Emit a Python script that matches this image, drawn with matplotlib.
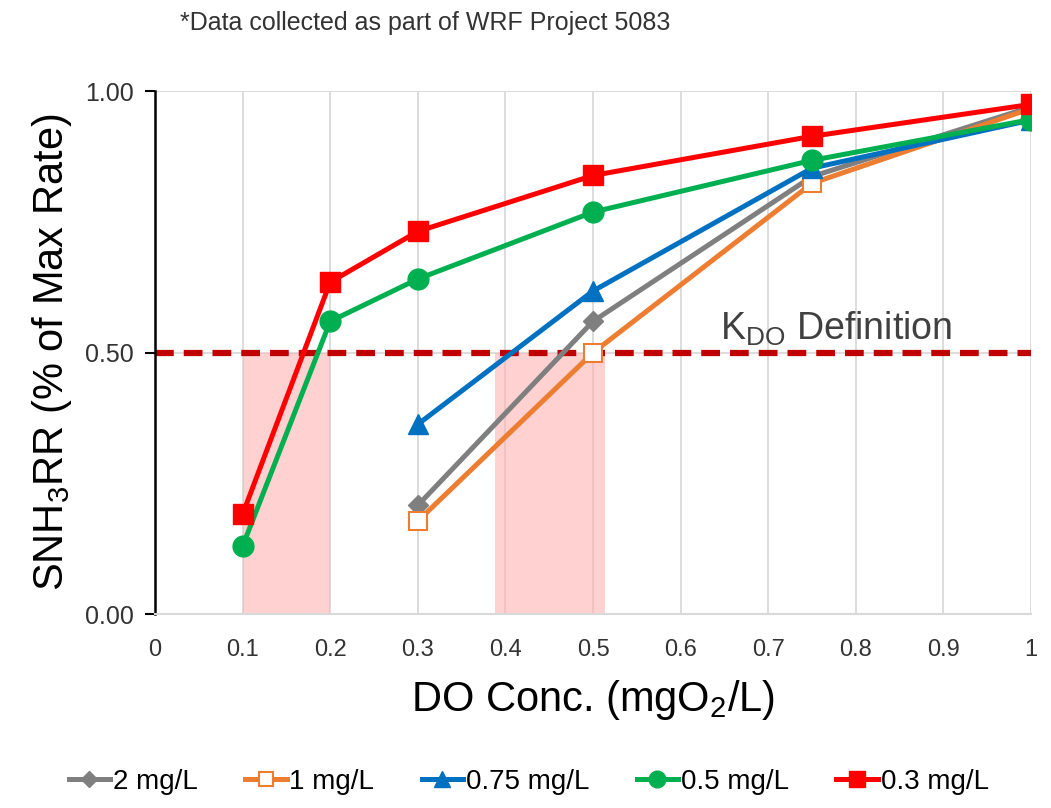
import numpy as np
import matplotlib.pyplot as plt

# DO concentration (mgO2/L)
do_red_green = [0.1, 0.2, 0.3, 0.5, 0.75, 1.0]
do_others = [0.3, 0.5, 0.75, 1.0]

# SNH3RR as fraction of max rate
rate_2 = [0.208, 0.56, 0.837, 0.970]
rate_1 = [0.178, 0.50, 0.824, 0.967]
rate_075 = [0.363, 0.618, 0.853, 0.945]
rate_05 = [0.13, 0.56, 0.641, 0.769, 0.868, 0.946]
rate_03 = [0.191, 0.635, 0.732, 0.839, 0.914, 0.975]

kdo_level = 0.5
kdo_bands = [(0.1, 0.2), (0.388, 0.514)]

plt.rcParams['font.family'] = ['Liberation Sans', 'DejaVu Sans']
plt.rcParams['mathtext.fontset'] = 'custom'
plt.rcParams['mathtext.rm'] = 'Liberation Sans'

fig = plt.figure(figsize=(10.51, 8.08), dpi=100)
ax = fig.add_axes([0.1475, 0.240, 0.8335, 0.647])

for lo, hi in kdo_bands:
    ax.axvspan(lo, hi, ymin=0, ymax=kdo_level, color='#FFB3B3', alpha=0.6, lw=0, zorder=1)

ax.axhline(kdo_level, color='#C00000', lw=4.5, ls=(0, (3, 1.6)), zorder=2)

lw = 3.6
ax.plot(do_others, rate_2, color='#7F7F7F', lw=lw, marker='D', ms=10, label='2 mg/L', zorder=3)
ax.plot(do_others, rate_1, color='#ED7D31', lw=lw, marker='s', ms=13, mfc='white', mew=1.5,
        label='1 mg/L', zorder=4)
ax.plot(do_others, rate_075, color='#0070C0', lw=lw, marker='^', ms=15, label='0.75 mg/L', zorder=5)
ax.plot(do_red_green, rate_05, color='#00B050', lw=lw, marker='o', ms=15, label='0.5 mg/L', zorder=6)
ax.plot(do_red_green, rate_03, color='#FF0000', lw=lw, marker='s', ms=14, label='0.3 mg/L', zorder=7)

ax.set_xlim(0, 1)
ax.set_ylim(0, 1)
ax.set_xticks(np.arange(0, 1.01, 0.1))
ax.set_xticklabels(['0', '0.1', '0.2', '0.3', '0.4', '0.5', '0.6', '0.7', '0.8', '0.9', '1'])
ax.set_yticks([0, 0.5, 1.0])
ax.set_yticklabels(['0.00', '0.50', '1.00'])
ax.grid(True, color='#D9D9D9', lw=1.3, zorder=0)
ax.set_axisbelow(True)
ax.tick_params(axis='x', length=0, labelsize=17, pad=18)
ax.tick_params(axis='y', length=7, width=1.5, labelsize=18, pad=8, direction='out')
for lbl in ax.get_yticklabels() + ax.get_xticklabels():
    lbl.set_color('#333333')

for s in ['top', 'right']:
    ax.spines[s].set_visible(False)
ax.spines['bottom'].set_color('#D9D9D9')
ax.spines['bottom'].set_linewidth(1.5)
ax.spines['left'].set_color('black')
ax.spines['left'].set_linewidth(1.8)

ax.set_xlabel(r'DO Conc. (mgO$_\mathregular{2}$/L)', fontsize=30, labelpad=12)
ax.set_ylabel(r'SNH$_\mathregular{3}$RR (% of Max Rate)', fontsize=30, labelpad=8)

ax.text(0.645, 0.525, r'K$_\mathregular{DO}$ Definition', fontsize=27, color='#404040',
        transform=ax.transAxes)

fig.text(0.171, 0.972, '*Data collected as part of WRF Project 5083', fontsize=18,
         color='#333333', va='center')

fig.legend(loc='center', bbox_to_anchor=(0.503, 0.032), ncol=5, frameon=False, fontsize=20,
           handlelength=1.5, handletextpad=0.1, columnspacing=1.7, markerscale=0.8)

plt.savefig('out.png', dpi=100)
